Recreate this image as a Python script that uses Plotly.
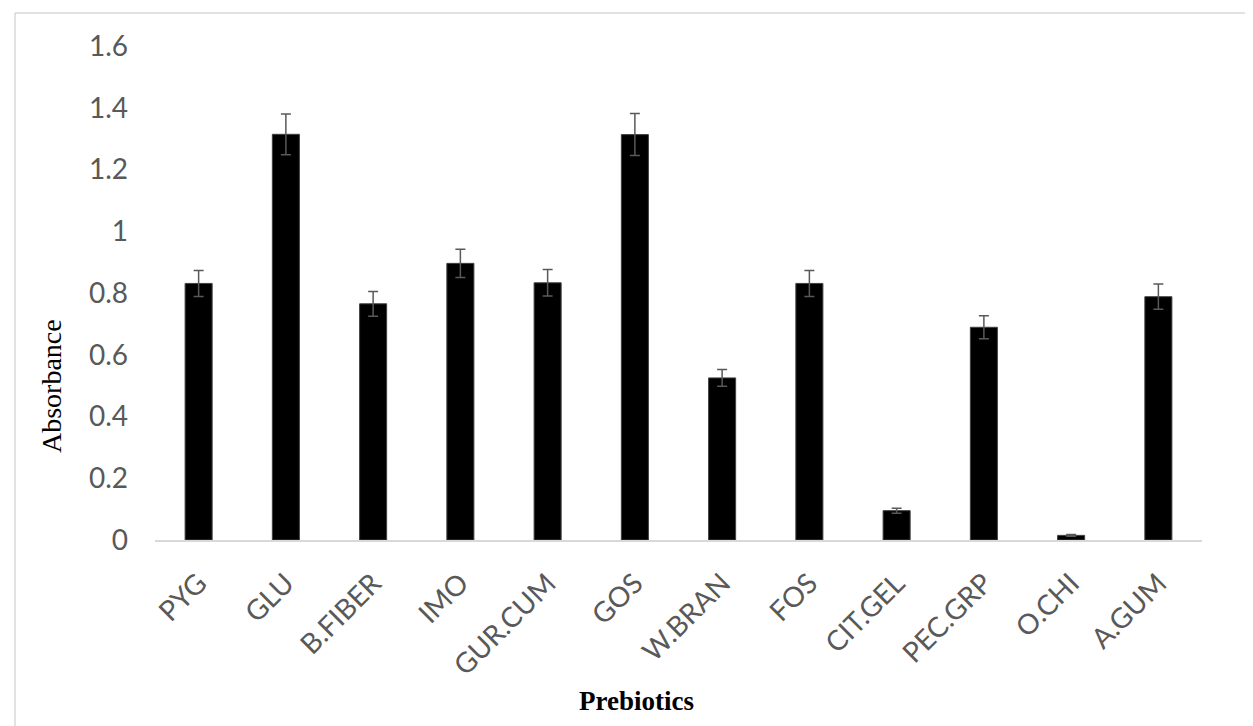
import plotly.graph_objects as go

categories = ["PYG", "GLU", "B.FIBER", "IMO", "GUR.CUM", "GOS", "W.BRAN",
              "FOS", "CIT.GEL", "PEC.GRP", "O.CHI", "A.GUM"]
absorbance = [0.831, 1.314, 0.765, 0.896, 0.833, 1.313, 0.525,
              0.831, 0.095, 0.689, 0.015, 0.788]
error = [0.042, 0.066, 0.040, 0.046, 0.043, 0.068, 0.027,
         0.042, 0.008, 0.037, 0.003, 0.041]
y_ticks = [0, 0.2, 0.4, 0.6, 0.8, 1.0, 1.2, 1.4, 1.6]
y_tick_text = ["0", "0.2", "0.4", "0.6", "0.8", "1", "1.2", "1.4", "1.6"]

W, H = 1253, 726
L, R, T, B = 147, 59, 38, 194
pw, ph = W - L - R, H - T - B

def px_x(px):
    return (px - L) / pw

def px_y(py):
    return (H - B - py) / ph

fig = go.Figure()
fig.add_trace(go.Bar(
    x=categories, y=absorbance, width=0.31,
    marker=dict(color="#000000", line=dict(color="#404040", width=1)),
    error_y=dict(type="data", array=error, visible=True,
                 color="#595959", thickness=1.5, width=5),
))

fig.update_layout(
    width=W, height=H,
    margin=dict(l=L, r=R, t=T, b=B),
    paper_bgcolor="white", plot_bgcolor="white",
    showlegend=False,
    xaxis=dict(
        type="category", range=[-0.5, 11.5],
        showline=True, linecolor="#d9d9d9", linewidth=1.5,
        showgrid=False, ticks="", tickangle=-45,
        tickfont=dict(family="Lato", size=28, color="#595959"),
        ticklabelstandoff=14,
    ),
    yaxis=dict(
        range=[0, 1.6], tickvals=y_ticks, ticktext=y_tick_text,
        showline=False, showgrid=False, zeroline=False, ticks="",
        tickfont=dict(family="Lato", size=28, color="#595959"),
        ticklabelstandoff=26,
    ),
    shapes=[
        dict(type="line", xref="paper", yref="paper",
             x0=px_x(7), x1=px_x(7), y0=px_y(5), y1=px_y(730),
             line=dict(color="#d9d9d9", width=1.5)),
        dict(type="line", xref="paper", yref="paper",
             x0=px_x(7), x1=px_x(1252), y0=px_y(5), y1=px_y(5),
             line=dict(color="#d9d9d9", width=1.5)),
    ],
    annotations=[
        dict(text="Absorbance", xref="paper", yref="paper",
             x=px_x(43), y=px_y(378), textangle=-90, showarrow=False,
             xanchor="center", yanchor="middle",
             font=dict(family="Liberation Serif", size=28, color="#000000")),
        dict(text="<b>Prebiotics</b>", xref="paper", yref="paper",
             x=px_x(628), y=px_y(693), showarrow=False,
             xanchor="center", yanchor="middle",
             font=dict(family="Liberation Serif", size=27, color="#000000")),
    ],
)

fig.write_html("out.html")
